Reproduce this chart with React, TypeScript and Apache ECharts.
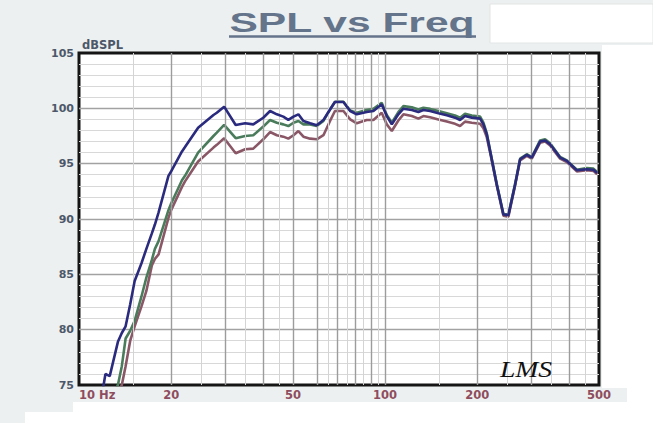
import React, { useEffect, useRef } from "react";
import * as echarts from "echarts";

// Frequencies (Hz) at which the three response curves were read
const freqHz = [
  12.0, 12.2, 12.6, 13.4, 13.8, 14.2, 14.7, 15.2, 16.0, 16.6,
  17.3, 17.7, 18.2, 19.6, 20.0, 21.7, 22.2, 24.5, 27.5, 28.2,
  29.8, 32.5, 34.9, 37.1, 40.0, 42.1, 44.3, 46.5, 48.3, 50.2,
  52.1, 54.1, 56.9, 59.8, 62.9, 66.1, 68.6, 73.1, 76.9, 80.8,
  87.1, 91.6, 97.5, 101.3, 105.2, 110.5, 114.8, 122.3, 128.5, 133.4,
  140.3, 149.4, 159.1, 169.3, 175.8, 182.5, 192.0, 204.4, 209.6, 214.9,
  220.4, 231.8, 243.6, 252.9, 265.9, 276.2, 290.4, 301.5, 321.0, 333.3,
  346.1, 373.2, 392.5, 423.2, 456.1, 479.4, 493.0,
];

// SPL (dB) – top (navy) curve
const splNavy = [
  74.8, 76.0, 75.8, 78.9, 79.7, 80.3, 82.3, 84.4, 86.0, 87.3,
  88.7, 89.5, 90.6, 93.9, 94.3, 96.1, 96.5, 98.25, 99.4, 99.6,
  100.15, 98.5, 98.65, 98.55, 99.15, 99.76, 99.46, 99.25, 98.95, 99.25,
  99.46, 98.86, 98.65, 98.47, 98.95, 99.9, 100.57, 100.57, 99.76, 99.46,
  99.67, 99.76, 100.36, 99.3, 98.55, 99.46, 99.97, 99.85, 99.67, 99.85,
  99.76, 99.55, 99.37, 99.16, 98.95, 99.3, 99.16, 99.07, 98.55, 97.65,
  96.15, 93.1, 90.4, 90.35, 93.1, 95.4, 95.8, 95.55, 97.0, 97.1,
  96.75, 95.55, 95.25, 94.4, 94.5, 94.45, 94.15,
];

// SPL (dB) – middle (green) curve
const splGreen = [
  72.5, 72.8, 73.5, 75.0, 76.7, 79.2, 79.9, 80.8, 83.0, 84.7,
  86.3, 87.3, 88.0, 90.8, 91.4, 93.5, 93.9, 96.0, 97.5, 97.8,
  98.5, 97.3, 97.5, 97.57, 98.35, 98.95, 98.7, 98.55, 98.4, 98.7,
  98.86, 98.55, 98.55, 98.4, 98.86, 99.9, 100.6, 100.6, 99.8, 99.6,
  99.85, 99.95, 100.5, 99.4, 98.7, 99.65, 100.2, 100.1, 99.9, 100.05,
  99.95, 99.75, 99.55, 99.35, 99.15, 99.5, 99.35, 99.25, 98.7, 97.75,
  96.2, 93.15, 90.45, 90.4, 93.15, 95.45, 95.85, 95.6, 97.1, 97.2,
  96.85, 95.6, 95.3, 94.45, 94.6, 94.55, 94.25,
];

// SPL (dB) – bottom (mauve) curve
const splMauve = [
  71.5, 72.0, 72.8, 74.2, 75.0, 76.7, 79.0, 80.3, 82.1, 83.5,
  85.8, 86.4, 86.8, 90.1, 90.8, 92.9, 93.4, 95.2, 96.45, 96.7,
  97.3, 95.94, 96.3, 96.36, 97.2, 97.86, 97.57, 97.44, 97.26, 97.57,
  97.95, 97.44, 97.26, 97.2, 97.57, 98.86, 99.76, 99.76, 99.0, 98.65,
  98.95, 98.95, 99.6, 98.55, 97.95, 98.9, 99.46, 99.3, 99.07, 99.3,
  99.2, 99.0, 98.8, 98.6, 98.4, 98.8, 98.7, 98.6, 98.2, 97.4,
  96.0, 93.0, 90.3, 90.2, 93.0, 95.3, 95.7, 95.45, 96.9, 97.0,
  96.65, 95.45, 95.15, 94.3, 94.4, 94.35, 94.05,
];

const xTickLabels = [10, 20, 50, 100, 200, 500];
const majorFreqLines = [20, 30, 40, 50, 60, 70, 80, 90, 100, 200, 300, 400];
const minorFreqLines = [15, 25, 35, 45, 65, 75, 85, 95, 150, 250, 350, 450];
const yMin = 75;
const yMax = 105;
const yStep = 5;

export default function App() {
  const ref = useRef<HTMLDivElement>(null);

  useEffect(() => {
    if (!ref.current) return;
    const chart = echarts.init(ref.current, undefined, { renderer: "svg" });

    const curve = (name: string, vals: number[], color: string, z: number) => ({
      type: "line",
      name,
      data: freqHz.map((f, i) => [f, vals[i]]),
      symbol: "none",
      smooth: false,
      clip: true,
      z,
      lineStyle: { color, width: 2.6 },
      itemStyle: { color },
      emphasis: { disabled: true },
    });

    const bgRect = (x: number, y: number, w: number, h: number, stroke?: string) => ({
      type: "rect",
      z: -10,
      silent: true,
      shape: { x, y, width: w, height: h },
      style: { fill: "#ffffff", stroke: stroke || "none", lineWidth: 1 },
    });

    chart.setOption({
      animation: false,
      backgroundColor: "#edf0f0",
      grid: {
        left: 79,
        right: 54,
        top: 53,
        bottom: 38,
        show: true,
        backgroundColor: "#ffffff",
        borderColor: "#151515",
        borderWidth: 3,
        containLabel: false,
      },
      xAxis: {
        type: "log",
        logBase: 10,
        min: 10,
        max: 500,
        axisLine: { show: false },
        axisTick: { show: false },
        splitLine: { show: false },
        minorSplitLine: { show: false },
        axisLabel: {
          customValues: xTickLabels,
          formatter: (v: number) => (Math.round(v) === 10 ? "10 Hz" : String(Math.round(v))),
          color: "#8e4d5e",
          fontFamily: "DejaVu Sans",
          fontWeight: "bold",
          fontSize: 11.5,
          margin: 4,
          alignMinLabel: "left",
        },
      },
      yAxis: {
        type: "value",
        min: yMin,
        max: yMax,
        interval: yStep,
        name: "dBSPL",
        nameLocation: "end",
        nameGap: 2,
        nameTextStyle: {
          color: "#4c586a",
          fontFamily: "DejaVu Sans",
          fontWeight: "bold",
          fontSize: 11.5,
          align: "left",
          padding: [0, 0, 0, 3],
        },
        axisLine: { show: false },
        axisTick: { show: false },
        axisLabel: {
          color: "#4c586a",
          fontFamily: "DejaVu Sans",
          fontWeight: "bold",
          fontSize: 11,
          margin: 5,
        },
        splitLine: {
          show: true,
          showMinLine: false,
          showMaxLine: false,
          lineStyle: { color: "#a2a2a2", width: 1.3 },
        },
        minorTick: { show: false, splitNumber: 5 },
        minorSplitLine: { show: true, lineStyle: { color: "#d8d8d8", width: 1 } },
      },
      graphic: [
        bgRect(490, 4, 163, 39, "#e2e5e5"),
        bgRect(602, 45, 51, 343),
        bgRect(627, 388, 26, 15),
        bgRect(73, 402, 580, 21),
        bgRect(25, 412, 48, 11),
        {
          type: "text",
          x: 352,
          y: 22,
          scaleX: 1.52,
          z: 10,
          style: {
            text: "SPL vs Freq",
            font: 'bold 28px "Liberation Sans", Arial, sans-serif',
            fill: "#64748b",
            align: "center",
            verticalAlign: "middle",
            textAlign: "center",
            textVerticalAlign: "middle",
          },
        },
        {
          type: "line",
          z: 10,
          shape: { x1: 229, y1: 36.5, x2: 476, y2: 36.5 },
          style: { stroke: "#64748b", lineWidth: 2.5 },
        },
        {
          type: "text",
          x: 526,
          y: 369,
          scaleX: 1.15,
          z: 10,
          style: {
            text: "LMS",
            font: 'italic 24px "Liberation Serif", serif',
            fill: "#111111",
            align: "center",
            verticalAlign: "middle",
            textAlign: "center",
            textVerticalAlign: "middle",
          },
        },
      ],
      series: [
        {
          type: "line",
          name: "grid",
          data: [[10, 0]],
          symbol: "none",
          lineStyle: { opacity: 0 },
          silent: true,
          z: 1,
          markLine: {
            silent: true,
            symbol: ["none", "none"],
            label: { show: false },
            animation: false,
            data: [
              ...minorFreqLines.map((v) => ({ xAxis: v, lineStyle: { color: "#d4d4d4", width: 1, type: "solid" } })),
              ...majorFreqLines.map((v) => ({ xAxis: v, lineStyle: { color: "#9c9c9c", width: 1.4, type: "solid" } })),
            ],
          },
        },
        curve("Mauve", splMauve, "#8a5767", 3),
        curve("Green", splGreen, "#4a7c5c", 4),
        curve("Navy", splNavy, "#2a2a7e", 5),
      ],
    });

    return () => chart.dispose();
  }, []);

  return (
    <div
      ref={ref}
      style={{ position: "fixed", left: 0, top: 0, width: 653, height: 423 }}
    />
  );
}
